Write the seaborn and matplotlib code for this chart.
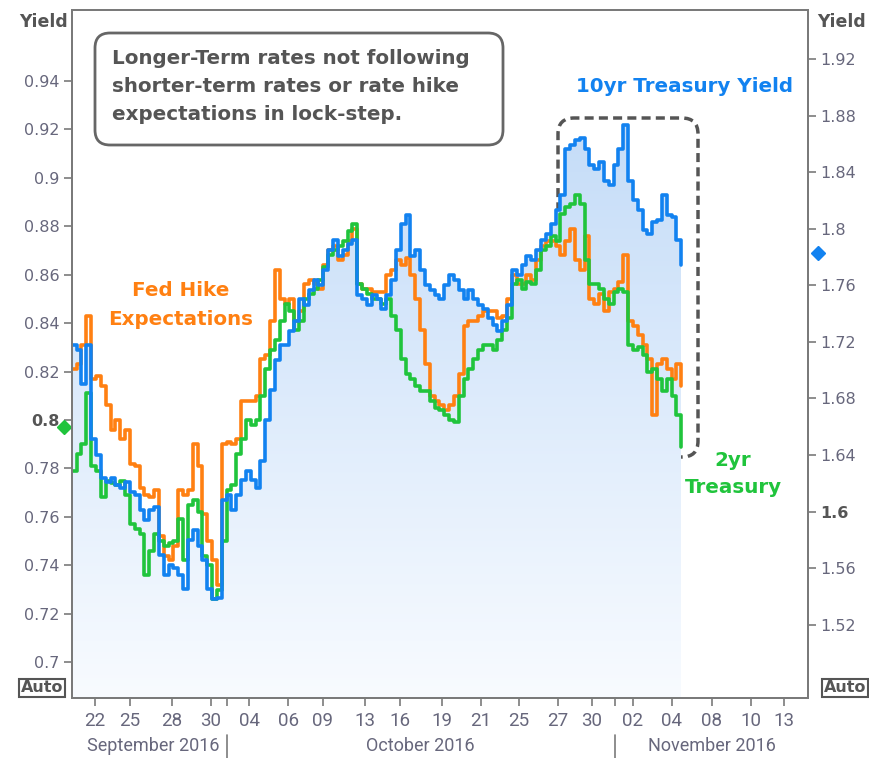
import numpy as np
import matplotlib
matplotlib.use("Agg")
import matplotlib.pyplot as plt
import matplotlib.transforms as mtransforms
import seaborn as sns
from matplotlib.patches import FancyBboxPatch
from matplotlib.colors import LinearSegmentedColormap

# --- data: trading-day axis (0 = 21 Sep 2016, weekends / bond holidays skipped), 6h samples ---
t = np.arange(127) * 0.25 - 0.2

yield_10y = [1.718, 1.714, 1.690, 1.718, 1.651, 1.640, 1.624, 1.621, 1.624, 1.619,
             1.617, 1.621, 1.614, 1.612, 1.601, 1.594, 1.601, 1.603, 1.569, 1.555,
             1.562, 1.560, 1.555, 1.545, 1.580, 1.587, 1.576, 1.566, 1.545, 1.538,
             1.539, 1.608, 1.612, 1.601, 1.612, 1.622, 1.629, 1.622, 1.617, 1.636,
             1.665, 1.686, 1.707, 1.718, 1.718, 1.728, 1.735, 1.750, 1.746, 1.757,
             1.764, 1.760, 1.771, 1.785, 1.792, 1.781, 1.785, 1.789, 1.792, 1.753,
             1.750, 1.746, 1.753, 1.750, 1.743, 1.753, 1.764, 1.785, 1.803, 1.810,
             1.781, 1.785, 1.771, 1.760, 1.757, 1.753, 1.750, 1.760, 1.767, 1.764,
             1.757, 1.750, 1.757, 1.750, 1.746, 1.743, 1.737, 1.732, 1.728, 1.735,
             1.746, 1.771, 1.767, 1.774, 1.781, 1.778, 1.785, 1.792, 1.796, 1.803,
             1.813, 1.824, 1.856, 1.859, 1.863, 1.864, 1.856, 1.845, 1.842, 1.847,
             1.834, 1.831, 1.845, 1.856, 1.873, 1.834, 1.820, 1.813, 1.799, 1.796,
             1.805, 1.806, 1.824, 1.810, 1.808, 1.792, 1.774]

fed_hike = [0.821, 0.823, 0.831, 0.843, 0.817, 0.818, 0.814, 0.806, 0.796, 0.800,
            0.792, 0.796, 0.782, 0.781, 0.772, 0.769, 0.768, 0.771, 0.752, 0.744,
            0.742, 0.748, 0.771, 0.769, 0.771, 0.790, 0.781, 0.761, 0.750, 0.742,
            0.732, 0.790, 0.791, 0.790, 0.792, 0.808, 0.808, 0.808, 0.810, 0.825,
            0.827, 0.841, 0.862, 0.850, 0.848, 0.850, 0.841, 0.845, 0.856, 0.858,
            0.856, 0.854, 0.864, 0.870, 0.872, 0.866, 0.868, 0.874, 0.879, 0.856,
            0.854, 0.854, 0.853, 0.853, 0.853, 0.860, 0.862, 0.866, 0.864, 0.867,
            0.860, 0.850, 0.837, 0.823, 0.810, 0.808, 0.806, 0.804, 0.806, 0.810,
            0.819, 0.839, 0.841, 0.841, 0.843, 0.845, 0.845, 0.845, 0.842, 0.843,
            0.850, 0.860, 0.856, 0.856, 0.860, 0.858, 0.866, 0.872, 0.874, 0.874,
            0.872, 0.868, 0.874, 0.879, 0.866, 0.862, 0.876, 0.850, 0.848, 0.852,
            0.845, 0.853, 0.854, 0.857, 0.868, 0.841, 0.839, 0.835, 0.831, 0.825,
            0.802, 0.823, 0.825, 0.821, 0.817, 0.823, 0.814]

yield_2y = [0.779, 0.786, 0.790, 0.811, 0.781, 0.779, 0.768, 0.775, 0.774, 0.773,
            0.775, 0.769, 0.757, 0.755, 0.753, 0.736, 0.746, 0.753, 0.750, 0.748,
            0.749, 0.750, 0.759, 0.742, 0.765, 0.767, 0.762, 0.744, 0.740, 0.726,
            0.730, 0.750, 0.771, 0.773, 0.786, 0.792, 0.800, 0.798, 0.800, 0.810,
            0.821, 0.829, 0.833, 0.841, 0.848, 0.845, 0.837, 0.841, 0.850, 0.852,
            0.854, 0.858, 0.863, 0.868, 0.870, 0.872, 0.874, 0.878, 0.881, 0.856,
            0.854, 0.852, 0.850, 0.850, 0.848, 0.850, 0.843, 0.837, 0.825, 0.819,
            0.817, 0.814, 0.812, 0.812, 0.808, 0.805, 0.804, 0.802, 0.800, 0.799,
            0.810, 0.817, 0.821, 0.825, 0.829, 0.831, 0.831, 0.829, 0.833, 0.837,
            0.842, 0.856, 0.858, 0.854, 0.857, 0.856, 0.862, 0.870, 0.872, 0.876,
            0.874, 0.885, 0.888, 0.889, 0.893, 0.889, 0.866, 0.856, 0.856, 0.854,
            0.850, 0.848, 0.853, 0.854, 0.853, 0.831, 0.829, 0.830, 0.827, 0.820,
            0.821, 0.817, 0.812, 0.817, 0.810, 0.802, 0.789]

last_2y = 0.797
last_10y = 1.783

day_ticks = [1.0, 2.81, 4.98, 7.0, 8.96, 10.98, 12.78, 14.95, 16.76, 18.93,
             20.95, 22.91, 24.93, 26.68, 28.8, 30.82, 32.88, 34.9, 36.6]
day_labels = ['22', '25', '28', '30', '04', '06', '09', '13', '16', '19',
              '21', '25', '27', '30', '02', '04', '08', '10', '13']
month_breaks = [7.82, 27.87]
month_names = ['September 2016', 'October 2016', 'November 2016']
month_centres = [4.0, 17.8, 32.9]

left_ticks = [0.70, 0.72, 0.74, 0.76, 0.78, 0.80, 0.82, 0.84, 0.86, 0.88, 0.90, 0.92, 0.94]
right_ticks = [1.52, 1.56, 1.60, 1.64, 1.68, 1.72, 1.76, 1.80, 1.84, 1.88, 1.92]

BLUE = '#1282f0'
ORANGE = '#ff8012'
GREEN = '#20c43c'
AXIS = '#7a7a7a'
TICKTXT = '#67677c'
DARK = '#555555'

sns.set_style("white")
plt.rcParams['font.family'] = ['DejaVu Sans']
NARROW = ['DejaVu Sans Condensed', 'Roboto', 'DejaVu Sans']

fig = plt.figure(figsize=(8.69, 7.58), dpi=100)
ax = fig.add_axes([72 / 869, 60 / 758, 736 / 869, 688 / 758])
ax2 = ax.twinx()
ax.set_zorder(2)
ax2.set_zorder(1)
ax.patch.set_visible(False)

xlim = (-0.19, 37.85)
ylim_l = (0.6852, 0.9693)
ylim_r = (1.4682, 1.9546)

# --- gradient area under the 10yr line (right axis) ---
poly = ax2.fill_between(t, yield_10y, ylim_r[0], step='post')
clip = poly.get_paths()[0]
poly.remove()
cmap = LinearSegmentedColormap.from_list('fill', ['#f8fbff', '#c4dcf8'])
grad = np.linspace(0, 1, 256).reshape(-1, 1)
im = ax2.imshow(grad, extent=[t[0], t[-1], ylim_r[0], 1.88], origin='lower',
                aspect='auto', cmap=cmap, zorder=0)
im.set_clip_path(clip, transform=ax2.transData)

# --- lines ---
LW = 2.6
sns.lineplot(x=t, y=fed_hike, ax=ax, color=ORANGE, linewidth=LW,
             drawstyle='steps-post', estimator=None, legend=False)
sns.lineplot(x=t, y=yield_2y, ax=ax, color=GREEN, linewidth=LW,
             drawstyle='steps-post', estimator=None, legend=False)
sns.lineplot(x=t, y=yield_10y, ax=ax, color=BLUE, linewidth=LW,
             drawstyle='steps-post', estimator=None, legend=False,
             transform=ax2.transData)

ax.set_xlim(*xlim)
ax2.set_xlim(*xlim)
ax.set_ylim(*ylim_l)
ax2.set_ylim(*ylim_r)
ax.set_xlabel('')
ax.set_ylabel('')
ax2.set_ylabel('')

# last-value markers on the spines
tl = mtransforms.blended_transform_factory(ax.transAxes, ax.transData)
tr = mtransforms.blended_transform_factory(ax2.transAxes, ax2.transData)
ax.plot([-0.011], [last_2y], marker='D', ms=7, color=GREEN, transform=tl, clip_on=False)
ax.plot([1.0136], [last_10y], marker='D', ms=7, color=BLUE, transform=tr, clip_on=False)

# --- axes styling ---
for a in (ax, ax2):
    for s in a.spines.values():
        s.set_color(AXIS)
        s.set_linewidth(1.4)
        s.set_visible(True)

ax.set_yticks(left_ticks)
ax.set_yticklabels([f'{v:g}' for v in left_ticks])
ax2.set_yticks(right_ticks)
ax2.set_yticklabels([f'{v:g}' for v in right_ticks])
ax.tick_params(axis='y', direction='out', length=6, width=1.2, color=AXIS,
               labelcolor=TICKTXT, labelsize=11.5, pad=3, left=True)
ax2.tick_params(axis='y', direction='out', length=6, width=1.2, color=AXIS,
                labelcolor=TICKTXT, labelsize=11.5, pad=3, right=True)
for lab in ax.get_yticklabels():
    if lab.get_text() == '0.8':
        lab.set_fontweight('bold')
        lab.set_color(DARK)
for lab in ax2.get_yticklabels():
    if lab.get_text() == '1.6':
        lab.set_fontweight('bold')
        lab.set_color(DARK)

ax.set_xticks(day_ticks)
ax.set_xticklabels(day_labels, family=NARROW)
ax.set_xticks(month_breaks, minor=True)
ax.tick_params(axis='x', which='both', direction='out', length=6, width=1.2,
               color=AXIS, labelcolor=TICKTXT, labelsize=13.5, pad=4, bottom=True)

tb = mtransforms.blended_transform_factory(ax.transData, ax.transAxes)
for b in month_breaks:
    ax.plot([b, b], [-0.054, -0.09], color=AXIS, lw=1.2, transform=tb, clip_on=False)
for name, c in zip(month_names, month_centres):
    ax.text(c, -0.0695, name, transform=tb, ha='center', va='center',
            fontsize=13, family=NARROW, color=TICKTXT)

# --- axis titles and Auto boxes ---
fig.text(44 / 869, 1 - 22 / 758, 'Yield', ha='center', va='center',
         fontsize=12.5, fontweight='bold', color=DARK)
fig.text(842 / 869, 1 - 22 / 758, 'Yield', ha='center', va='center',
         fontsize=12.5, fontweight='bold', color=DARK)
for xc in (42, 845):
    fig.text(xc / 869, 1 - 688 / 758, 'Auto', ha='center', va='center',
             fontsize=11.5, fontweight='bold', color=DARK,
             bbox=dict(boxstyle='square,pad=0.12', fc='white', ec=DARK, lw=1.5))

# --- series labels ---
fig.text(181 / 869, 1 - 305 / 758, 'Fed Hike\nExpectations', ha='center', va='center',
         fontsize=14.3, fontweight='bold', color=ORANGE, linespacing=1.65)
fig.text(685 / 869, 1 - 87 / 758, '10yr Treasury Yield', ha='center', va='center',
         fontsize=14.3, fontweight='bold', color=BLUE)
fig.text(733 / 869, 1 - 474 / 758, '2yr\nTreasury', ha='center', va='center',
         fontsize=14.3, fontweight='bold', color=GREEN, linespacing=1.55)

# --- callout box and dashed highlight ---
note = FancyBboxPatch((0.95, 6.13), 4.08, 1.12,
                      boxstyle='round,pad=0,rounding_size=0.15',
                      transform=fig.dpi_scale_trans, fc='white', ec='#666666', lw=2)
fig.add_artist(note)
fig.text(112 / 869, 1 - 87 / 758,
         'Longer-Term rates not following\nshorter-term rates or rate hike\nexpectations in lock-step.',
         ha='left', va='center', fontsize=14.3, fontweight='bold', color=DARK,
         linespacing=1.6, zorder=5)

hl = FancyBboxPatch((5.58, 3.01), 1.40, 3.39,
                    boxstyle='round,pad=0,rounding_size=0.16',
                    transform=fig.dpi_scale_trans, fill=False, ec='#555555',
                    lw=2.5, ls=(0, (2.6, 1.5)))
fig.add_artist(hl)

fig.savefig('out.png', dpi=100, facecolor='white')
